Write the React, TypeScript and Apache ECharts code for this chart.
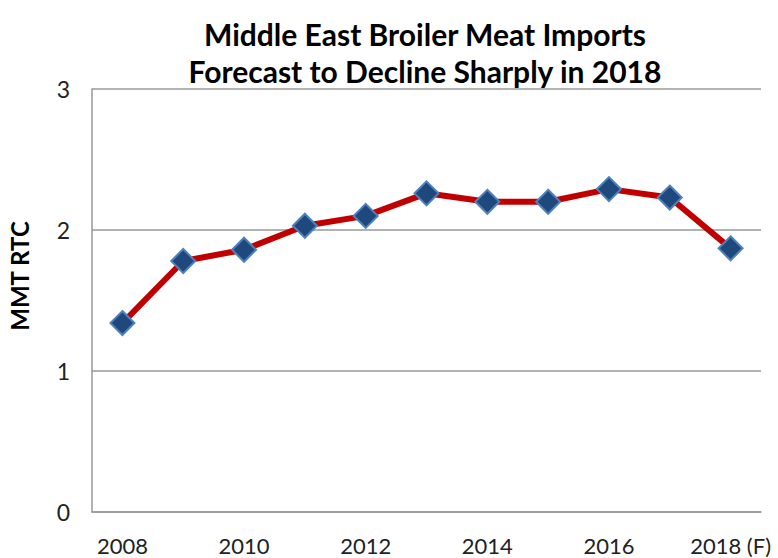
import React, { useEffect, useRef } from "react";
import * as echarts from "echarts";

const categories = ["2008", "2009", "2010", "2011", "2012", "2013", "2014", "2015", "2016", "2017", "2018 (F)"];
const imports = [1.34, 1.78, 1.86, 2.03, 2.10, 2.26, 2.20, 2.20, 2.29, 2.23, 1.87];
const titleLines = ["Middle East Broiler Meat Imports", "Forecast to Decline Sharply in 2018"];
const yAxisName = "MMT RTC";

const FONT = "Lato, 'Open Sans', sans-serif";

export default function App() {
  const ref = useRef<HTMLDivElement>(null);
  useEffect(() => {
    if (!ref.current) return;
    const chart = echarts.init(ref.current, undefined, { renderer: "svg" });
    chart.setOption({
      animation: false,
      backgroundColor: "#ffffff",
      title: {
        text: titleLines.join("\n"),
        left: 420,
        textAlign: "center",
        top: 10,
        textStyle: { fontFamily: FONT, fontWeight: "bold", fontSize: 30, lineHeight: 37, color: "#000" },
      },
      graphic: [
        {
          type: "text",
          x: 19,
          y: 276,
          rotation: Math.PI / 2,
          style: {
            text: yAxisName,
            fontFamily: FONT,
            fontWeight: "bold",
            fontSize: 24,
            fill: "#000",
            align: "center",
            verticalAlign: "middle",
          },
        },
      ],
      grid: { left: 92, right: 17, top: 89, bottom: 46, containLabel: false },
      xAxis: {
        type: "category",
        data: categories,
        boundaryGap: true,
        axisLine: { show: true, lineStyle: { color: "#999", width: 1.5 } },
        axisTick: { show: false },
        axisLabel: { interval: 1, margin: 21, lineHeight: 24, fontFamily: FONT, fontSize: 22, color: "#222" },
      },
      yAxis: {
        type: "value",
        min: 0,
        max: 3,
        interval: 1,
        axisLine: { show: true, lineStyle: { color: "#999", width: 1.5 } },
        axisTick: { show: false },
        axisLabel: { margin: 22, fontFamily: FONT, fontSize: 23, color: "#222" },
        splitLine: { show: true, lineStyle: { color: "#999", width: 1.5 } },
      },
      series: [
        {
          type: "line",
          data: imports,
          symbol: "diamond",
          symbolSize: 24,
          lineStyle: { color: "#C00000", width: 6 },
          itemStyle: { color: "#1F497D", borderColor: "#4F81BD", borderWidth: 2 },
        },
      ],
    });
    return () => chart.dispose();
  }, []);
  return <div ref={ref} style={{ width: 778, height: 558, position: "absolute", left: 0, top: 0 }} />;
}
